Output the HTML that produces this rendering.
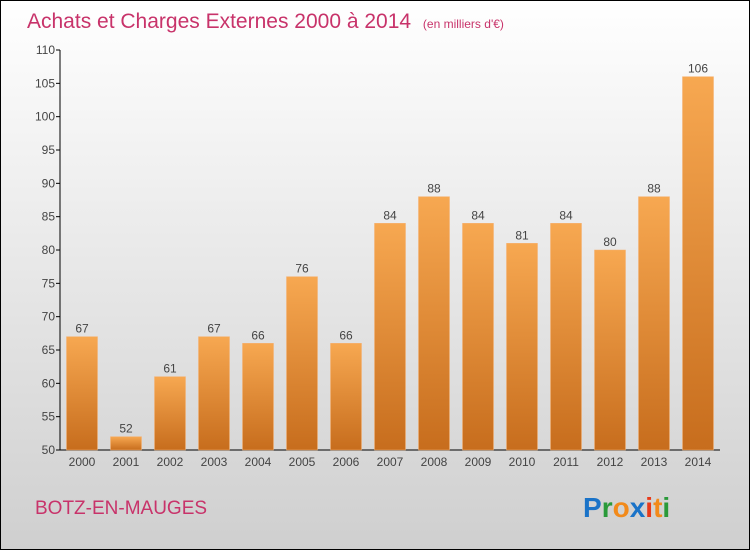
<!DOCTYPE html>
<html><head><meta charset="utf-8"><style>
body{margin:0;width:750px;height:550px;overflow:hidden;font-family:"Liberation Sans",sans-serif}
</style></head><body>
<svg id="chart" width="750" height="550" xmlns="http://www.w3.org/2000/svg">
<defs>
<linearGradient id="bg" x1="0" y1="0" x2="0" y2="1"><stop offset="0" stop-color="#ffffff"/><stop offset="1" stop-color="#cfcfcf"/></linearGradient>
<linearGradient id="bar" x1="0" y1="0" x2="0" y2="1"><stop offset="0" stop-color="#f7a851"/><stop offset="1" stop-color="#c76d1d"/></linearGradient>
</defs>
<rect x="0.5" y="0.5" width="749" height="549" fill="url(#bg)" stroke="#000"/>
<text x="27" y="28" font-size="21" fill="#c8336a">Achats et Charges Externes 2000 à 2014 <tspan font-size="12" dx="6">(en milliers d'€)</tspan></text>
<g id="axes"></g><g id="bars"></g>
<text x="35" y="514" font-size="19" fill="#c8336a">BOTZ-EN-MAUGES</text>
<g font-size="28" font-weight="bold" font-family="Liberation Sans,sans-serif">
<text x="583" y="517"><tspan fill="#1a73c8">P</tspan><tspan fill="#2a9a3a">r</tspan><tspan fill="#f28a1a">o</tspan><tspan fill="#1a73c8">x</tspan><tspan fill="#e83a1a">i</tspan><tspan fill="#f28a1a">t</tspan><tspan fill="#2a9a3a">i</tspan></text>
</g>
</svg>
<script>
const years=["2000","2001","2002","2003","2004","2005","2006","2007","2008","2009","2010","2011","2012","2013","2014"];
const values=[67,52,61,67,66,76,66,84,88,84,81,84,80,88,106];
const ticks=[50,55,60,65,70,75,80,85,90,95,100,105,110];
const NS="http://www.w3.org/2000/svg";
const y=v=>450-(v-50)*400/60;
const x=i=>82+i*44;
function mk(t,a,p){const e=document.createElementNS(NS,t);for(const k in a)e.setAttribute(k,a[k]);p.appendChild(e);return e;}
const ax=document.getElementById('axes'),bg=document.getElementById('bars');
const yl=mk('line',{x1:60,y1:y(110),x2:60,y2:450,stroke:'#000'},ax);


const xl=mk('line',{x1:60,y1:450,x2:720,y2:450,stroke:'#000'},ax);


ticks.forEach(t=>{
 mk('line',{x1:56,y1:y(t),x2:60,y2:y(t),stroke:'#000'},ax);
 const tx=mk('text',{x:55,y:y(t)+4,'text-anchor':'end','font-size':12,fill:'#444'},ax);tx.textContent=t;
 
 
});
years.forEach((yr,i)=>{
 const v=values[i];
 const r=mk('rect',{x:x(i)-15.5,y:y(v),width:31,height:450-y(v),fill:'url(#bar)',stroke:'#f5b070','stroke-width':0.5},bg);
 
 
 const l=mk('text',{x:x(i),y:y(v)-4,'text-anchor':'middle','font-size':12,fill:'#444'},bg);l.textContent=v;
 
 
 const xt=mk('text',{x:x(i),y:466,'text-anchor':'middle','font-size':12,fill:'#444'},bg);xt.textContent=yr;
 
 
});
</script>
</body></html>
